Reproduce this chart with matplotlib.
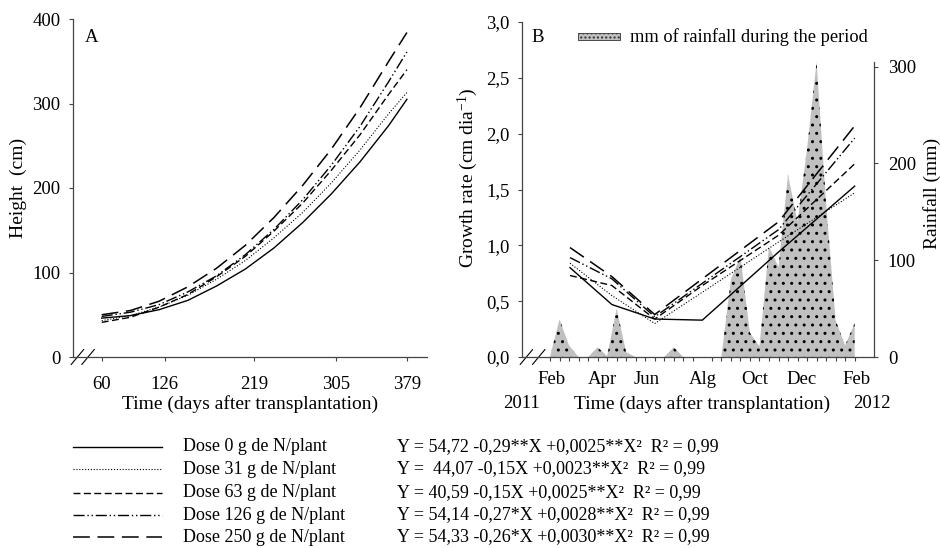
import matplotlib
matplotlib.use("Agg")
import matplotlib.pyplot as plt
from matplotlib.lines import Line2D
from matplotlib.patches import Rectangle

plt.rcParams['font.family'] = ['Liberation Serif', 'DejaVu Serif']
plt.rcParams['mathtext.fontset'] = 'custom'
plt.rcParams['mathtext.rm'] = 'Liberation Serif'
plt.rcParams['mathtext.it'] = 'Liberation Serif:italic'
plt.rcParams['hatch.linewidth'] = 1.0

# panel A - height (cm)
days = [60, 90, 120, 150, 180, 210, 240, 270, 300, 330, 360, 379]
h0 = [46, 49, 56, 67, 84, 104, 129, 159, 193, 231, 274, 305]
h31 = [43, 49, 59, 73, 92, 114, 141, 171, 206, 245, 288, 313]
h63 = [41, 47, 59, 74, 95, 119, 149, 182, 221, 263, 311, 340]
h126 = [48, 53, 62, 77, 96, 121, 151, 186, 227, 273, 326, 361]
h250 = [50, 55, 66, 83, 105, 132, 165, 203, 246, 295, 350, 384]
day_ticks = [60, 126, 219, 305, 379]

# panel B - rainfall per period (index 0..32) and growth rate
rain = [0, 39, 12, 0, 0, 10, 1, 50, 5, 0, 0, 0, 0, 10, 0, 0, 0, 0, 0,
        80, 104, 25, 11, 114, 93, 188, 140, 215, 305, 158, 38, 12, 35]
g_x = [2.1, 6.5, 11, 16, 24, 32]
g0 = [0.80, 0.47, 0.34, 0.33, 0.94, 1.53]
g31 = [0.84, 0.55, 0.30, 0.58, 1.03, 1.47]
g63 = [0.73, 0.64, 0.34, 0.64, 1.09, 1.73]
g126 = [0.89, 0.70, 0.36, 0.66, 1.14, 1.96]
g250 = [0.98, 0.72, 0.38, 0.70, 1.21, 2.07]
months = ['Feb', 'Apr', 'Jun', 'Alg', 'Oct', 'Dec', 'Feb']
month_pos = [0.2, 5.5, 10.2, 16, 21.5, 26.4, 32.2]

doses = ['Dose 0 g de N/plant', 'Dose 31 g de N/plant', 'Dose 63 g de N/plant',
         'Dose 126 g de N/plant', 'Dose 250 g de N/plant']
equations = ['Y = 54,72 -0,29**X +0,0025**X\u00b2  R\u00b2 = 0,99',
             'Y =  44,07 -0,15X +0,0023**X\u00b2  R\u00b2 = 0,99',
             'Y = 40,59 -0,15X +0,0025**X\u00b2  R\u00b2 = 0,99',
             'Y = 54,14 -0,27*X +0,0028**X\u00b2  R\u00b2 = 0,99',
             'Y = 54,33 -0,26*X +0,0030**X\u00b2  R\u00b2 = 0,99']

ls = ['-', (0, (1, 1.6)), (0, (5, 2.5)), (0, (8, 2, 1, 2, 1, 2)), (0, (11, 5))]
lw = [1.0, 0.8, 1.0, 1.0, 1.1]

W, H = 940, 548
fs = 14
tfs = 13.5
lfs = 13
spc = '#444444'

def fx(px):
    return px / W

def fy(py):
    return 1 - py / H

fig = plt.figure(figsize=(9.4, 5.48), dpi=100)

# ---- panel A
axA = fig.add_axes([fx(73), fy(357), 354 / W, 338 / H])
for y, s, w in zip([h0, h31, h63, h126, h250], ls, lw):
    axA.plot(days, y, color='black', linestyle=s, linewidth=w)
axA.set_xlim(30, 400)
axA.set_ylim(0, 400)
axA.set_xticks(day_ticks)
axA.set_yticks([0, 100, 200, 300, 400])
axA.spines['top'].set_visible(False)
axA.spines['right'].set_visible(False)
for sp in ['left', 'bottom']:
    axA.spines[sp].set_color(spc)
    axA.spines[sp].set_linewidth(0.9)
axA.tick_params(axis='x', direction='out', length=3, width=0.8, color=spc, pad=11, labelsize=tfs)
axA.tick_params(axis='y', direction='out', length=3, width=0.8, color=spc, pad=6, labelsize=tfs)
for x0 in [0.0, 0.03]:
    axA.plot([x0 - 0.005, x0 + 0.03], [-0.022, 0.022], transform=axA.transAxes,
             color='black', lw=0.8, clip_on=False)
fig.text(fx(92), fy(37), 'A', ha='center', va='center', fontsize=tfs)
fig.text(fx(18), fy(188), 'Height  (cm)', rotation=90, ha='center', va='center', fontsize=fs)
fig.text(fx(250), fy(404), 'Time (days after transplantation)', ha='center', va='center', fontsize=fs)

# ---- panel B
axB = fig.add_axes([fx(522), fy(357), 352 / W, 335 / H])
axR = axB.twinx()
axR.fill_between(range(len(rain)), rain, 0, facecolor='#c0c0c0', edgecolor='black',
                 linewidth=0, hatch='..')
axR.set_ylim(0, 346)
axR.set_yticks([0, 100, 200, 300])
axR.spines['right'].set_bounds(0, 305)
axR.spines['right'].set_color(spc)
axR.spines['right'].set_linewidth(0.9)
for sp in ['top', 'left', 'bottom']:
    axR.spines[sp].set_visible(False)
axR.tick_params(axis='y', direction='out', length=3, width=0.8, color=spc, pad=7, labelsize=tfs)

axB.set_zorder(axR.get_zorder() + 1)
axB.patch.set_visible(False)
for y, s, w in zip([g0, g31, g63, g126, g250], ls, lw):
    axB.plot(g_x, y, color='black', linestyle=s, linewidth=w)
axB.set_xlim(-2.94, 34.03)
axB.set_ylim(0, 3.0)
axB.set_yticks([0, 0.5, 1.0, 1.5, 2.0, 2.5, 3.0])
axB.set_yticklabels(['0,0', '0,5', '1,0', '1,5', '2,0', '2,5', '3,0'])
axB.set_xticks(month_pos)
axB.set_xticklabels(months)
axB.set_xticks(range(len(rain)), minor=True)
axB.spines['top'].set_visible(False)
axB.spines['right'].set_visible(False)
for sp in ['left', 'bottom']:
    axB.spines[sp].set_color(spc)
    axB.spines[sp].set_linewidth(0.9)
axB.tick_params(axis='x', which='major', length=0, pad=10, labelsize=tfs)
axB.tick_params(axis='x', which='minor', direction='out', length=3, width=0.8, color=spc)
axB.tick_params(axis='y', direction='out', length=3, width=0.8, color=spc, pad=6, labelsize=tfs)
for x0 in [0.0, 0.035]:
    axB.plot([x0 - 0.005, x0 + 0.03], [-0.022, 0.022], transform=axB.transAxes,
             color='black', lw=0.8, clip_on=False)

fig.text(fx(538), fy(37), 'B', ha='center', va='center', fontsize=tfs)
fig.add_artist(Rectangle((fx(578), fy(40)), 42 / W, 7 / H, transform=fig.transFigure,
                         facecolor='#c0c0c0', edgecolor='#333333', linewidth=0.6, hatch='....'))
fig.text(fx(630), fy(37), 'mm of rainfall during the period', ha='left', va='center', fontsize=13.2)
fig.text(fx(468), fy(178), 'Growth rate (cm dia$^{-1}$)', rotation=90, ha='center', va='center', fontsize=fs)
fig.text(fx(932), fy(193), 'Rainfall (mm)', rotation=90, ha='center', va='center', fontsize=fs)
fig.text(fx(702), fy(404), 'Time (days after transplantation)', ha='center', va='center', fontsize=fs)
fig.text(fx(522), fy(403), '2011', ha='center', va='center', fontsize=tfs)
fig.text(fx(872), fy(403), '2012', ha='center', va='center', fontsize=tfs)

# ---- legend with equations
rows = [446.7, 469, 492.7, 515, 537]
for r, s, w, d, e in zip(rows, ls, lw, doses, equations):
    fig.add_artist(Line2D([fx(73), fx(162)], [fy(r), fy(r)], transform=fig.transFigure,
                          color='black', linestyle=s, linewidth=w))
    fig.text(fx(183), fy(r), d, ha='left', va='center', fontsize=lfs)
    fig.text(fx(397), fy(r), e, ha='left', va='center', fontsize=lfs)

fig.savefig('out.png', dpi=100)
